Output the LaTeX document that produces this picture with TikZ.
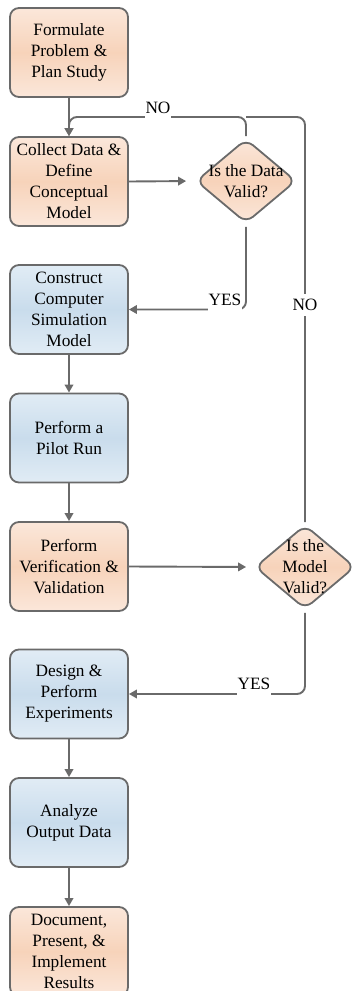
\documentclass[tikz,border=0pt]{standalone}
\usepackage{fontspec}
\setmainfont{Liberation Serif}
\usetikzlibrary{shapes.geometric,arrows.meta,calc}
\definecolor{bord}{HTML}{6A6A6A}
\definecolor{orA}{HTML}{FBE7DA}
\definecolor{orB}{HTML}{F7D3BA}
\definecolor{blA}{HTML}{E1ECF5}
\definecolor{blB}{HTML}{C9DCEC}
\tikzset{
  box/.style={rectangle, rounded corners=9pt, draw=bord, line width=1.8pt,
    minimum width=118pt, minimum height=89pt, align=center,
    font=\fontsize{17.3}{21}\selectfont, inner sep=0pt},
  orbox/.style={box, top color=orA, bottom color=orA, middle color=orB},
  blbox/.style={box, top color=blA, bottom color=blA, middle color=blB},
  dia/.style={diamond, rounded corners=9pt, draw=bord, line width=1.8pt,
    minimum width=100pt, minimum height=84pt, inner sep=0pt,
    top color=orA, bottom color=orA, middle color=orB},
  diatext/.style={align=center, font=\fontsize{17.3}{21}\selectfont, inner sep=0pt},
  wire/.style={draw=bord, line width=1.9pt, rounded corners=8pt},
  conn/.style={wire, -{Triangle[length=8pt,width=8.5pt]}},
  lab/.style={fill=white, font=\fontsize{17.3}{21}\selectfont, inner xsep=1pt,
    inner ysep=0pt, minimum height=22pt},
}
\begin{document}
\begin{tikzpicture}[x=1pt,y=-1pt]
\useasboundingbox (0,0) rectangle (353,991);
\node[orbox] (b1) at (69,52.5) {Formulate\\Problem \&\\Plan Study};
\node[orbox] (b2) at (69,181.5) {Collect Data \&\\Define\\Conceptual\\Model};
\node[blbox] (b3) at (69,309.5) {Construct\\Computer\\Simulation\\Model};
\node[blbox] (b4) at (69,438) {Perform a\\Pilot Run};
\node[orbox] (b5) at (69,566.5) {Perform\\Verification \&\\Validation};
\node[blbox] (b6) at (69,694) {Design \&\\Perform\\Experiments};
\node[blbox] (b7) at (69,822.5) {Analyze\\Output Data};
\node[orbox] (b8) at (69,951.5) {Document,\\Present, \&\\Implement\\Results};
\node[dia] (d1) at (246,181) {};
\node[diatext] (d1t) at (d1.center) {Is the Data\\Valid?};
\node[dia] (d2) at (305,567) {};
\node[diatext] (d2t) at (d2.center) {Is the\\Model\\Valid?};
\coordinate (top) at (0,117);
% straight flow
\draw[conn] (b1) -- (b2);
\draw[conn] (b3) -- (b4);
\draw[conn] (b4) -- (b5);
\draw[conn] (b6) -- (b7);
\draw[conn] (b7) -- (b8);
\draw[conn, shorten >=9pt] (b2.east) -- (d1.west);
\draw[conn, shorten >=8pt] (b5.east) -- (d2.west);
% loops
\draw[wire, shorten <=2pt] (d2.north) -- (d2.north |- top) -- (d1.north |- top);
\draw[conn, shorten <=2pt] (d1.north) -- (d1.north |- top) -- (b2.north |- top) -- (b2.north);
\draw[conn, shorten <=3pt] (d1.south) |- (b3.east);
\draw[conn, shorten <=3pt] (d2.south) |- (b6.east);
% labels
\node[lab] (no1) at (158,108) {NO};
\node[lab] (no2) at (305,305) {NO};
\node[lab] (yes1) at (225,300) {YES};
\node[lab] (yes2) at (254,684) {YES};
\end{tikzpicture}
\end{document}
